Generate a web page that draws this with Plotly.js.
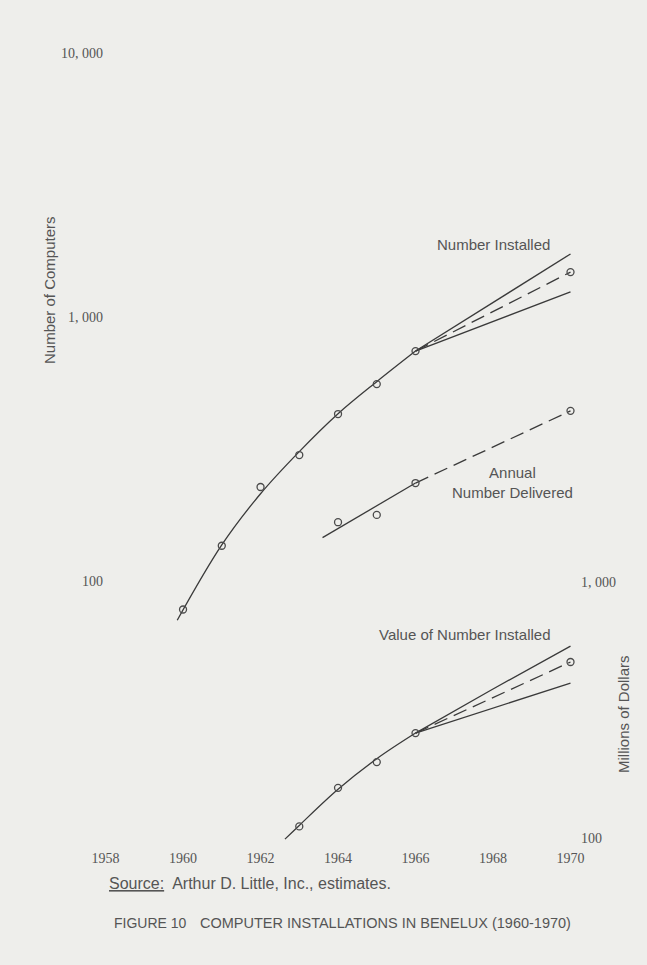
<!DOCTYPE html>
<html>
<head>
<meta charset="utf-8">
<script src="https://cdn.plot.ly/plotly-3.0.1.min.js"></script>
<style>html,body{margin:0;padding:0;background:#eeeeeb;}</style>
</head>
<body>
<div id="chart" style="width:647px;height:965px;"></div>
<script>
// ---- Data ----
// Number installed (left axis, number of computers)
const installedYears = [1960, 1961, 1962, 1963, 1964, 1965, 1966, 1970];
const installedValues = [78, 136, 227, 300, 429, 557, 743, 1480];
const installedCurveYears = [1959.85, 1961, 1962, 1963, 1964, 1965, 1966];
const installedCurveValues = [71, 137, 214, 309, 430, 569, 743];
const installedProjYears = [1966, 1970];
const installedHigh = [743, 1733];
const installedMid = [743, 1480];
const installedLow = [743, 1245];

// Annual number delivered (left axis)
const deliveredYears = [1964, 1965, 1966, 1970];
const deliveredValues = [167, 178, 235, 441];
const deliveredTrendYears = [1963.6, 1966];
const deliveredTrendValues = [146, 235];
const deliveredProjYears = [1966, 1970];
const deliveredProjValues = [235, 441];

// Value of number installed (right axis, millions of dollars)
const valueYears = [1963, 1964, 1965, 1966, 1970];
const valueValues = [111, 157, 198, 257, 487];
const valueCurveYears = [1962.63, 1963, 1964, 1965, 1966];
const valueCurveValues = [99, 112, 155, 204, 257];
const valueHighYears = [1966, 1968, 1970];
const valueHigh = [257, 382, 562];
const valueProjYears = [1966, 1970];
const valueMid = [257, 487];
const valueLow = [257, 403];

// Tick labels
const xTicks = [1958, 1960, 1962, 1964, 1966, 1968, 1970];
const yLeftTicks = [100, 1000, 10000];
const yLeftLabels = ['100', '1, 000', '10, 000'];
const yRightTicks = [100, 1000];
const yRightLabels = ['100', '1, 000'];

// ---- Styles ----
const lineCol = '#3a3a3a';
const txtCol = '#555555';
const serif = 'Liberation Serif, DejaVu Serif, serif';
const sans = 'Liberation Sans, Arial, sans-serif';

function line(x, y, opts) {
  return Object.assign({
    x: x, y: y, type: 'scatter', mode: 'lines', hoverinfo: 'skip', showlegend: false,
    line: {color: lineCol, width: 1.3}
  }, opts || {});
}
function pts(x, y, axis) {
  return {
    x: x, y: y, type: 'scatter', mode: 'markers', yaxis: axis, showlegend: false,
    marker: {symbol: 'circle-open', size: 7, color: '#4a4a4a', line: {width: 1.3, color: '#4a4a4a'}}
  };
}
const dash = '14px,7px';

const traces = [
  line(installedCurveYears, installedCurveValues, {line: {color: lineCol, width: 1.3, shape: 'spline', smoothing: 1}}),
  line(installedProjYears, installedHigh),
  line(installedProjYears, installedLow),
  line(installedProjYears, installedMid, {line: {color: lineCol, width: 1.3, dash: dash}}),
  pts(installedYears, installedValues, 'y'),

  line(deliveredTrendYears, deliveredTrendValues),
  line(deliveredProjYears, deliveredProjValues, {line: {color: lineCol, width: 1.3, dash: dash}}),
  pts(deliveredYears, deliveredValues, 'y'),

  line(valueCurveYears, valueCurveValues, {yaxis: 'y2', line: {color: lineCol, width: 1.3, shape: 'spline', smoothing: 1}}),
  line(valueHighYears, valueHigh, {yaxis: 'y2', line: {color: lineCol, width: 1.3, shape: 'spline'}}),
  line(valueProjYears, valueLow, {yaxis: 'y2'}),
  line(valueProjYears, valueMid, {yaxis: 'y2', line: {color: lineCol, width: 1.3, dash: dash}}),
  pts(valueYears, valueValues, 'y2')
];

const layout = {
  width: 647, height: 965,
  paper_bgcolor: '#eeeeeb', plot_bgcolor: 'rgba(0,0,0,0)',
  margin: {l: 104, r: 67, t: 50, b: 117},
  showlegend: false,
  font: {family: serif, color: txtCol, size: 14},
  xaxis: {
    range: [1957.96, 1970.245], tickvals: xTicks, ticktext: xTicks.map(String),
    showgrid: false, zeroline: false, showline: false, ticks: '',
    tickfont: {family: serif, size: 14, color: txtCol}
  },
  yaxis: {
    type: 'log', range: [0.9886, 4.0114], tickvals: yLeftTicks, ticktext: yLeftLabels,
    showgrid: false, zeroline: false, showline: false, ticks: '',
    tickfont: {family: serif, size: 14, color: txtCol}
  },
  yaxis2: {
    type: 'log', range: [1.961, 5.078], overlaying: 'y', side: 'right',
    tickvals: yRightTicks, ticktext: yRightLabels,
    showgrid: false, zeroline: false, showline: false, ticks: '',
    tickfont: {family: serif, size: 14, color: txtCol}
  },
  annotations: [
    {text: 'Number Installed', x: 493, y: 244, font: {family: sans, size: 15, color: txtCol}},
    {text: 'Annual<br>Number Delivered', x: 512, y: 482, font: {family: sans, size: 15, color: txtCol}},
    {text: 'Value of Number Installed', x: 464, y: 634, font: {family: sans, size: 15, color: txtCol}},
    {text: 'Number of Computers', x: 49, y: 290, textangle: -90, font: {family: sans, size: 15, color: txtCol}},
    {text: 'Millions of Dollars', x: 623, y: 714, textangle: -90, font: {family: sans, size: 15, color: txtCol}},
    {text: '<u>Source:</u>  Arthur D. Little, Inc., estimates.', x: 107, y: 884, xanchor: 'left',
     font: {family: sans, size: 16, color: txtCol}},
    {text: 'FIGURE 10', x: 112, y: 923, xanchor: 'left', font: {family: sans, size: 14, color: txtCol}},
    {text: 'COMPUTER INSTALLATIONS IN BENELUX (1960-1970)', x: 198, y: 923, xanchor: 'left',
     font: {family: sans, size: 14.5, color: txtCol}}
  ]
};

// convert pixel positions of annotations to paper coordinates
const plotL = 104, plotR = 647 - 67, plotT = 50, plotB = 965 - 117;
layout.annotations.forEach(a => {
  a.showarrow = false;
  a.xref = 'paper'; a.yref = 'paper';
  if (!a.xanchor) a.xanchor = 'center';
  a.yanchor = 'middle';
  a.x = (a.x - plotL) / (plotR - plotL);
  a.y = (plotB - a.y) / (plotB - plotT);
});

Plotly.newPlot('chart', traces, layout, {staticPlot: true, displayModeBar: false});
</script>
</body>
</html>
